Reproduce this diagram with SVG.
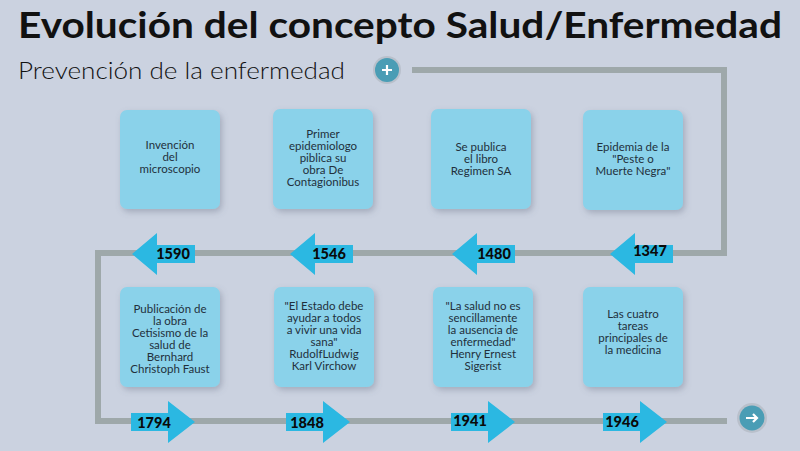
<svg xmlns="http://www.w3.org/2000/svg" width="800" height="451" viewBox="0 0 800 451">
<defs>
<filter id="sh" x="-20%" y="-20%" width="150%" height="150%">
<feDropShadow dx="2" dy="3" stdDeviation="3" flood-color="#5a6478" flood-opacity="0.35"/>
</filter>
<polygon id="la" points="0,0 25,-21 25,-9 63,-9 63,9 25,9 25,21"/>
<polygon id="ra" points="0,-9 37,-9 37,-21 64,0 37,21 37,9 0,9"/>
</defs>
<style>
.box{fill:#8ad2ea;filter:url(#sh)}
.bt{font-family:Lato,"Open Sans",sans-serif;font-size:11.5px;fill:#22303c;text-anchor:middle}
.arr{fill:#2bb8e2}
.yr{font-family:Lato,"Open Sans",sans-serif;font-size:14.5px;font-weight:900;fill:#0a0a0a;text-anchor:middle}
.ln{fill:none;stroke:#9ea8aa;stroke-width:6}
</style>
<rect width="800" height="451" fill="#cbd2e0"/>
<text x="18" y="38" font-family="Lato,'Open Sans',sans-serif" font-size="36" font-weight="700" fill="#111" textLength="764" lengthAdjust="spacingAndGlyphs">Evolución del concepto Salud/Enfermedad</text>
<text x="18" y="79" font-family="Lato,'Open Sans',sans-serif" font-size="23" font-weight="300" fill="#111" textLength="327" lengthAdjust="spacingAndGlyphs">Prevención de la enfermedad</text>

<g id="connectors">
<path class="ln" d="M412,70 H724 V253 H98 V421 H727"/>
</g>

<g id="start">
<circle cx="387" cy="70" r="14" fill="#b9c0cb"/>
<circle cx="387" cy="70" r="12" fill="#4a9db5"/>
<path d="M382,70 H392 M387,65 V75" stroke="#fff" stroke-width="2.2"/>
</g>
<g id="end">
<circle cx="752" cy="418" r="15" fill="#b9c0cb"/>
<circle cx="752" cy="418" r="12.5" fill="#4a9db5"/>
<path d="M746,418 H757 M753,414 L757,418 L753,422" stroke="#fff" stroke-width="2.2" fill="none"/>
</g>

<g id="n1347">
<rect class="box" x="583" y="110" width="100" height="100" rx="7"/>
<text class="bt" x="633" y="151">Epidemia de la</text>
<text class="bt" x="633" y="163">"Peste o</text>
<text class="bt" x="633" y="175">Muerte Negra"</text>
<use href="#la" x="610" y="254" class="arr"/>
<text class="yr" x="650" y="256">1347</text>
</g>
<g id="n1480">
<rect class="box" x="431" y="109" width="100" height="100" rx="7"/>
<text class="bt" x="481" y="151">Se publica</text>
<text class="bt" x="481" y="163">el libro</text>
<text class="bt" x="481" y="175">Regimen SA</text>
<use href="#la" x="452" y="254" class="arr"/>
<text class="yr" x="494" y="259">1480</text>
</g>
<g id="n1546">
<rect class="box" x="273" y="109" width="100" height="100" rx="7"/>
<text class="bt" x="323" y="138">Primer</text>
<text class="bt" x="323" y="150">epidemiologo</text>
<text class="bt" x="323" y="162">piblica su</text>
<text class="bt" x="323" y="174">obra De</text>
<text class="bt" x="323" y="186">Contagionibus</text>
<use href="#la" x="290" y="254" class="arr"/>
<text class="yr" x="329" y="259">1546</text>
</g>
<g id="n1590">
<rect class="box" x="120" y="110" width="100" height="99" rx="7"/>
<text class="bt" x="170" y="149">Invención</text>
<text class="bt" x="170" y="161">del</text>
<text class="bt" x="170" y="173">microscopio</text>
<use href="#la" x="132" y="254" class="arr"/>
<text class="yr" x="173" y="259">1590</text>
</g>

<g id="n1794">
<rect class="box" x="120" y="287" width="100" height="100" rx="7"/>
<text class="bt" x="170" y="313">Publicación de</text>
<text class="bt" x="170" y="325">la obra</text>
<text class="bt" x="170" y="337">Cetisismo de la</text>
<text class="bt" x="170" y="349">salud de</text>
<text class="bt" x="170" y="361">Bernhard</text>
<text class="bt" x="170" y="373">Christoph Faust</text>
<use href="#ra" x="131" y="422" class="arr"/>
<text class="yr" x="154" y="428">1794</text>
</g>
<g id="n1848">
<rect class="box" x="274" y="287" width="100" height="100" rx="7"/>
<text class="bt" x="324" y="310">"El Estado debe</text>
<text class="bt" x="324" y="322">ayudar a todos</text>
<text class="bt" x="324" y="334">a vivir una vida</text>
<text class="bt" x="324" y="346">sana"</text>
<text class="bt" x="324" y="358">RudolfLudwig</text>
<text class="bt" x="324" y="370">Karl Virchow</text>
<use href="#ra" x="286" y="422" class="arr"/>
<text class="yr" x="307" y="428">1848</text>
</g>
<g id="n1941">
<rect class="box" x="433" y="287" width="100" height="100" rx="7"/>
<text class="bt" x="483" y="310">"La salud no es</text>
<text class="bt" x="483" y="322">sencillamente</text>
<text class="bt" x="483" y="334">la ausencia de</text>
<text class="bt" x="483" y="346">enfermedad"</text>
<text class="bt" x="483" y="358">Henry Ernest</text>
<text class="bt" x="483" y="370">Sigerist</text>
<use href="#ra" x="451" y="422" class="arr"/>
<text class="yr" x="470" y="426">1941</text>
</g>
<g id="n1946">
<rect class="box" x="583" y="287" width="100" height="100" rx="7"/>
<text class="bt" x="633" y="318">Las cuatro</text>
<text class="bt" x="633" y="330">tareas</text>
<text class="bt" x="633" y="342">principales de</text>
<text class="bt" x="633" y="354">la medicina</text>
<use href="#ra" x="603" y="422" class="arr"/>
<text class="yr" x="622" y="427">1946</text>
</g>
</svg>
